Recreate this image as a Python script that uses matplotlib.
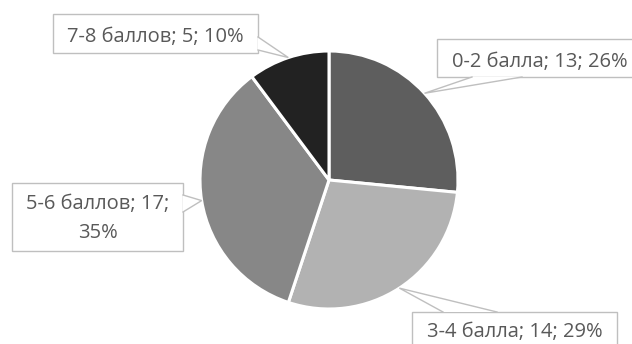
import numpy as np
import matplotlib
matplotlib.use("Agg")
import matplotlib.pyplot as plt
from matplotlib.patches import Rectangle, Polygon

# data
labels = ["0-2 балла", "3-4 балла", "5-6 баллов", "7-8 баллов"]
counts = [13, 14, 17, 5]
percents = [26, 29, 35, 10]
colors = ["#5e5e5e", "#b2b2b2", "#878787", "#222222"]

W, H = 632, 344
TXT = "#595959"
EDGE = "#bfbfbf"

plt.rcParams["font.family"] = ["Open Sans", "DejaVu Sans"]

fig = plt.figure(figsize=(W / 100, H / 100), dpi=100)
ax = fig.add_axes([0, 0, 1, 1])

cx, cy, rad = 329, H - 180, 129
ax.pie(counts, colors=colors, startangle=90, counterclock=False,
       center=(cx, cy), radius=rad,
       wedgeprops=dict(edgecolor="white", linewidth=2.2))
ax.set_xlim(0, W)
ax.set_ylim(0, H)
ax.set_aspect("equal")
ax.axis("off")

# mid-angle of every slice -> tip of the callout pointer
total = sum(counts)
cum = np.cumsum(counts) - np.array(counts) / 2
mid = np.deg2rad(90 - 360 * cum / total)
tips = [(cx + rad * np.cos(a), cy + rad * np.sin(a)) for a in mid]

# callout layout in pixel coords (top-left origin): box, wedge base, baselines
boxes = [
    dict(box=(437, 39, 643, 77), base=[(472, 77), (522, 77)], lines=[67]),
    dict(box=(412, 312, 617, 350), base=[(443, 312), (497, 312)], lines=[337]),
    dict(box=(12, 183, 183, 251), base=[(183, 195), (183, 212)], lines=[209, 238]),
    dict(box=(53, 14, 258, 53), base=[(258, 37), (258, 50)], lines=[42]),
]

for i, b in enumerate(boxes):
    x0, y0, x1, y1 = b["box"]
    ax.add_patch(Rectangle((x0, H - y1), x1 - x0, y1 - y0, facecolor="white",
                           edgecolor=EDGE, lw=1.0, zorder=3))
    (bx0, by0), (bx1, by1) = b["base"]
    tx, ty = tips[i]
    pts = [(bx0, H - by0), (tx, ty), (bx1, H - by1)]
    ax.add_patch(Polygon(pts, closed=True, facecolor="white", edgecolor="none",
                         zorder=4))
    ax.plot([p[0] for p in pts], [p[1] for p in pts], color=EDGE, lw=1.0,
            zorder=4, solid_joinstyle="miter")
    if len(b["lines"]) == 2:
        rows = [f"{labels[i]}; {counts[i]};", f"{percents[i]}%"]
    else:
        rows = [f"{labels[i]}; {counts[i]}; {percents[i]}%"]
    for row, base_y in zip(rows, b["lines"]):
        ax.text((x0 + x1) / 2, H - base_y, row, ha="center", va="baseline",
                fontsize=14.5, color=TXT, zorder=5, clip_on=True)

fig.savefig("out.png", dpi=100)
